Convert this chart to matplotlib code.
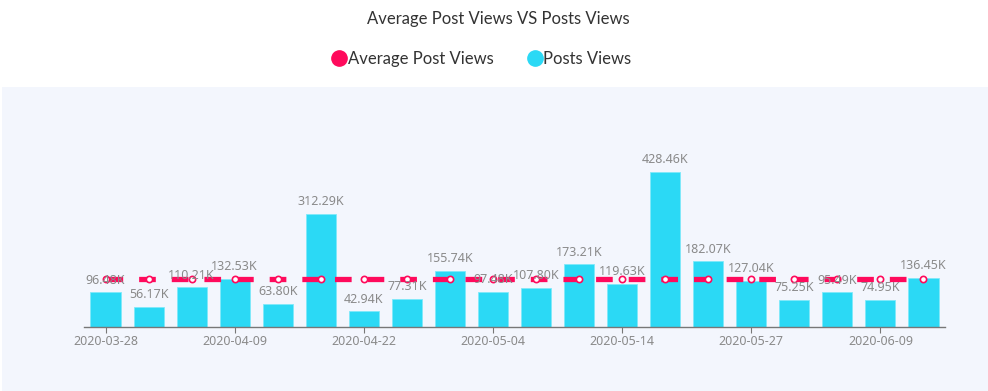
import numpy as np
import matplotlib.pyplot as plt
from matplotlib.lines import Line2D
from matplotlib.patches import Rectangle

plt.rcParams['font.family'] = ['Lato', 'DejaVu Sans']
plt.rcParams['lines.scale_dashes'] = False

### data
dates = ['2020-03-28', '2020-04-01', '2020-04-05', '2020-04-09', '2020-04-13',
         '2020-04-18', '2020-04-22', '2020-04-26', '2020-04-30', '2020-05-04',
         '2020-05-07', '2020-05-11', '2020-05-14', '2020-05-18', '2020-05-23',
         '2020-05-27', '2020-05-31', '2020-06-05', '2020-06-09', '2020-06-13']
views = [96.48, 56.17, 110.21, 132.53, 63.80, 312.29, 42.94, 77.31, 155.74, 97.48,
         107.80, 173.21, 119.63, 428.46, 182.07, 127.04, 75.25, 95.49, 74.95, 136.45]
avg = [133.27] * len(views)

cyan = '#2bd9f5'
red = '#ff0a5c'
grey = '#8a8a8a'

fig = plt.figure(figsize=(9.88, 3.91), dpi=100)
fig.patch.set_facecolor('white')
# light plot background
fig.patches.append(Rectangle((2/988, 0), 986/988, (391-87)/391, transform=fig.transFigure,
                             facecolor='#f3f6fd', edgecolor='none', zorder=-10))

ax = fig.add_axes([84/988, (391-327)/391, (945-84)/988, (327-146)/391])
ax.set_facecolor('none')

x = np.arange(len(views))
ax.bar(x, views, width=0.7, color=cyan, edgecolor='#7fe9fa', linewidth=0.6, zorder=2)
for xi, v in zip(x, views):
    ax.annotate('%.2fK' % v, (xi, v), xytext=(0, 4), textcoords='offset points',
                ha='center', va='bottom', fontsize=9, color=grey,
                family=['Noto Sans', 'DejaVu Sans'], zorder=4)

ax.plot(x, avg, color=red, lw=3.8, dashes=(12, 11.5), zorder=3,
        marker='o', markersize=4.5, markerfacecolor='white', markeredgecolor=red,
        markeredgewidth=1.2)

ax.set_xlim(-0.5, len(views) - 0.5)
ax.set_ylim(0, 500)
for s in ['top', 'right', 'left']:
    ax.spines[s].set_visible(False)
ax.spines['bottom'].set_color('#777777')
ax.spines['bottom'].set_linewidth(1)
ax.set_yticks([])
ticks = x[::3]
ax.set_xticks(ticks)
ax.set_xticklabels([dates[i] for i in ticks], fontsize=9, color=grey,
                   family=['Noto Sans', 'DejaVu Sans'])
ax.tick_params(axis='x', length=4, color='#777777', pad=2)

fig.text(0.5045, 1 - 19/391, 'Average Post Views VS Posts Views', ha='center', va='center',
         fontsize=12, color='#333333')

handles = [Line2D([], [], ls='none', marker='o', markersize=11, color=red),
           Line2D([], [], ls='none', marker='o', markersize=11, color=cyan)]
fig.legend(handles, ['Average Post Views', 'Posts Views'], loc='center',
           bbox_to_anchor=(0.487, 1 - 59/391), ncol=2, frameon=False,
           handletextpad=0.0, columnspacing=2.0, handlelength=1.0,
           prop={'size': 12}, labelcolor='#333333')

plt.savefig('out.png', dpi=100)
